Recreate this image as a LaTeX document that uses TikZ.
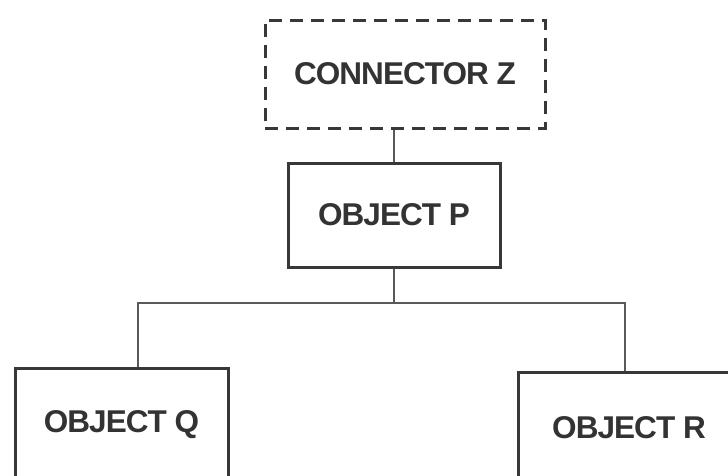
\documentclass[tikz,border=0pt]{standalone}
\usepackage{fontspec}
\setmainfont{Liberation Sans}
\begin{document}
\begin{tikzpicture}[x=1pt,y=-1pt,
  box/.style={draw=black!78, line width=3pt, fill=white, inner sep=0pt,
    font=\fontsize{31.5}{33}\selectfont\bfseries, text=black!80},
  link/.style={draw=black!65, line width=2.6pt}]
\useasboundingbox[fill=white] (0,0) rectangle (728,475);
\clip (0,0) rectangle (728,475);
\node[box, dashed, dash pattern=on 13pt off 8pt, minimum width=280pt, minimum height=108pt] (Z) at (405,74) {\addfontfeatures{LetterSpace=-3}CONNECTOR Z};
\node[box, minimum width=212pt, minimum height=104pt] (P) at (394,215) {\addfontfeatures{LetterSpace=-3}OBJECT P};
\node[box, minimum width=213pt, minimum height=114pt] (Q) at (121.5,425) {\addfontfeatures{LetterSpace=-3}OBJECT Q};
\node[box, minimum width=222pt, minimum height=112pt] (R) at (629,428) {\addfontfeatures{LetterSpace=-3}OBJECT R};
\coordinate (bus) at (394,303);
\coordinate (busL) at (138,303);
\coordinate (busR) at (625,303);
\draw[link] (P.north) -- (P.north |- Z.south);
\draw[link] (P.south) -- (bus);
\draw[link] (busL |- Q.north) -- (busL) -- (busR) -- (busR |- R.north);
\end{tikzpicture}
\end{document}
